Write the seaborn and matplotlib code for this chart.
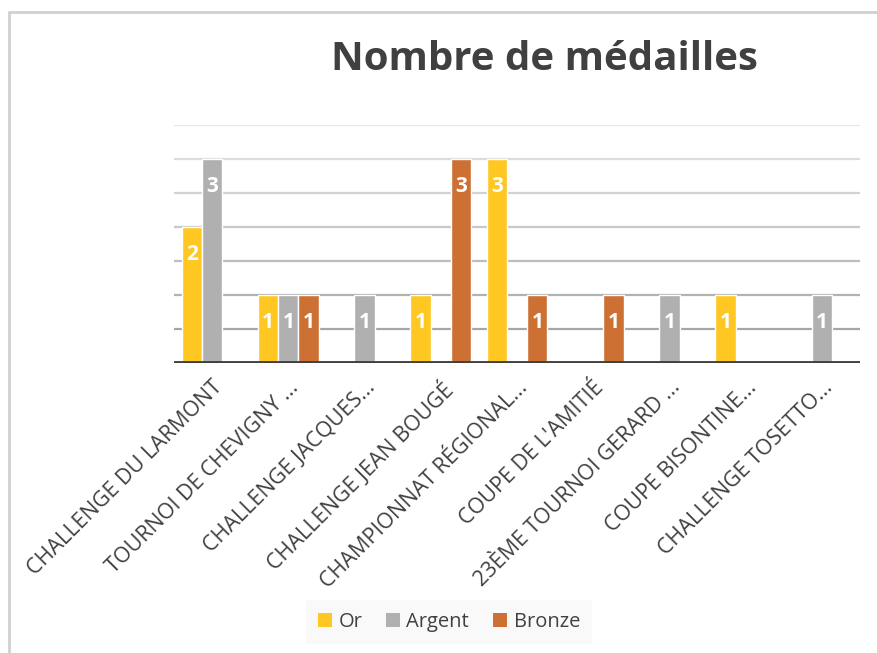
import seaborn as sns
import pandas as pd
import numpy as np
import matplotlib.pyplot as plt
from matplotlib.lines import Line2D
from matplotlib.patches import Patch

# data
competitions = ["CHALLENGE DU LARMONT", "TOURNOI DE CHEVIGNY ...", "CHALLENGE JACQUES...",
                "CHALLENGE JEAN BOUGÉ", "CHAMPIONNAT RÉGIONAL...", "COUPE DE L'AMITIÉ",
                "23ÈME TOURNOI GERARD ...", "COUPE BISONTINE...", "CHALLENGE TOSETTO..."]
medals = ["Or", "Argent", "Bronze"]
gold = [2, 1, 0, 1, 3, 0, 0, 1, 0]
silver = [3, 1, 1, 0, 0, 0, 1, 0, 1]
bronze = [0, 1, 0, 3, 1, 1, 0, 0, 0]
colors = ["#FFC722", "#B0B0B0", "#CD7034"]

df = pd.DataFrame({
    "competition": competitions * 3,
    "medaille": np.repeat(medals, len(competitions)),
    "n": gold + silver + bronze,
})

sns.set_theme(style="white")
plt.rcParams['font.family'] = ['Open Sans', 'DejaVu Sans']

fig = plt.figure(figsize=(8.77, 6.53), dpi=100)
ax = fig.add_axes([174/877, 1-363/653, (860-174)/877, (363-125)/653])

sns.barplot(data=df, x="competition", y="n", hue="medaille", palette=colors, saturation=1,
            width=0.8, gap=0, edgecolor="white", linewidth=1, legend=False, ax=ax, zorder=3)

ax.set_ylim(0, 3.5)
ax.set_xlim(-0.5, len(competitions) - 0.5)

# gridlines get darker toward the baseline
grid_cols = ["#a6a6a6", "#b2b2b2", "#bdbdbd", "#c8c8c8", "#d2d2d2", "#dcdcdc", "#e6e6e6"]
for yv, c in zip(np.arange(0.5, 3.6, 0.5), grid_cols):
    ax.axhline(yv, color=c, lw=1.6, zorder=1)
ax.axhline(0, color="#404040", lw=3.5, zorder=4)

# labels inside the bar tops
for cont, vals in zip(ax.containers, [gold, silver, bronze]):
    for bar, v in zip(cont, vals):
        if v > 0:
            ax.annotate(str(v), (bar.get_x() + bar.get_width()/2, v), xytext=(0, -20),
                        textcoords="offset points", ha="center", va="center",
                        color="white", fontsize=15, fontweight="bold", zorder=5)

for s in ax.spines.values():
    s.set_visible(False)
ax.set_yticks([])
ax.set_xlabel("")
ax.set_ylabel("")
ax.tick_params(axis="x", length=0, pad=10)
plt.setp(ax.get_xticklabels(), rotation=45, ha="right", rotation_mode="anchor",
         fontsize=15.5, color="#404040")

fig.text(544/877, 1-60/653, "Nombre de médailles", ha="center", va="center",
         fontsize=29, fontweight="bold", color="#404040")

handles = [Patch(facecolor=c, edgecolor="none", label=m) for m, c in zip(medals, colors)]
leg = fig.legend(handles=handles, loc="center", bbox_to_anchor=(449/877, 1-622/653), ncol=3,
                 frameon=True, fontsize=14.5, handlelength=0.7, handleheight=0.7,
                 handletextpad=0.3, columnspacing=1.2, borderpad=0.6)
leg.get_frame().set_facecolor("#f8f8f8")
leg.get_frame().set_edgecolor("none")
leg.get_frame().set_boxstyle("square", pad=0)
for t in leg.get_texts():
    t.set_color("#404040")

# outer frame (left and top edges)
fig.add_artist(Line2D([9/877, 9/877], [0, 1-12/653], color="#d0d0d0", lw=2))
fig.add_artist(Line2D([9/877, 1], [1-12/653, 1-12/653], color="#d0d0d0", lw=2))

fig.savefig("out.png", dpi=100)
